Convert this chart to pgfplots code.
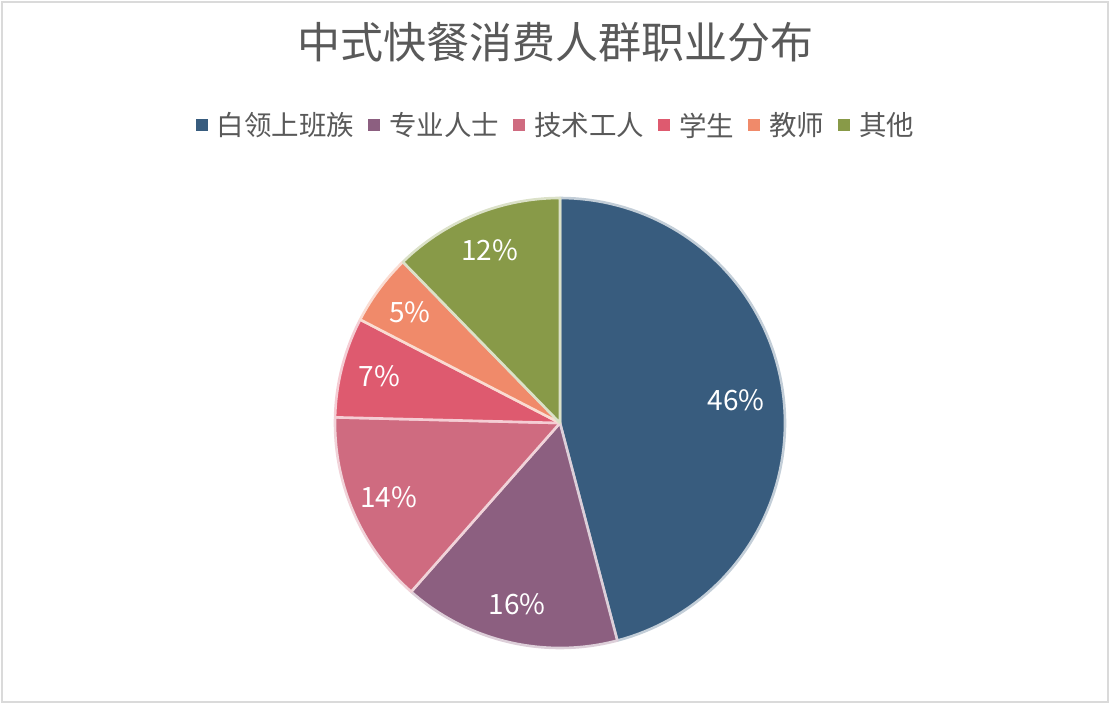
\documentclass[border=0pt]{standalone}
\usepackage{pgfplots}
\pgfplotsset{compat=1.18}
\usepackage{fontspec}
\setmainfont{Noto Sans CJK SC}
\definecolor{cBlue}{HTML}{385C7E}
\definecolor{cPurple}{HTML}{8C5F80}
\definecolor{cPink}{HTML}{CF6B80}
\definecolor{cRed}{HTML}{DE5A6F}
\definecolor{cOrange}{HTML}{F08A6A}
\definecolor{cGreen}{HTML}{889A48}
\definecolor{cText}{HTML}{595959}
\definecolor{cFrame}{HTML}{DADADA}
\def\splitentry#1/#2/#3\relax{\def\sv{#1}\def\sc{#2}\def\sl{#3}}
\begin{document}
\begin{tikzpicture}
\path (0,0) rectangle (1113bp,720bp);
\draw[cFrame, line width=2.5bp] (2bp,18bp) rectangle (1108bp,718bp);
\begin{axis}[
  at={(560bp,297bp)}, anchor=center,
  scale only axis, width=450bp, height=450bp,
  xmin=-1, xmax=1, ymin=-1, ymax=1,
  hide axis, clip=false,
  title={中式快餐消费人群职业分布},
  title style={at={(0.491,1.333)}, anchor=center, font=\fontsize{43bp}{50bp}\selectfont, text=cText},
  legend columns=6,
  legend style={at={(0.489,1.162)}, anchor=center, draw=none, fill=none, inner sep=0pt,
    font=\fontsize{27.5bp}{32bp}\selectfont, text=cText,
    /tikz/every even column/.append style={column sep=14bp},
    /tikz/every odd column/.append style={column sep=9bp},
    nodes={inner sep=0pt}},
  legend image code/.code={\path[#1, draw=none] (0bp,-6bp) rectangle (12bp,6bp);},
]
\def\cum{0}
\pgfplotsforeachungrouped \entry in {45.9/cBlue/白领上班族, 15.6/cPurple/专业人士, 13.9/cPink/技术工人, 7.2/cRed/学生, 5.1/cOrange/教师, 12.3/cGreen/其他}{%
  \expandafter\splitentry\entry\relax
  \pgfmathsetmacro\sa{90-3.6*\cum}%
  \pgfmathsetmacro\sb{90-3.6*(\cum+\sv)}%
  \pgfmathsetmacro\smid{(\sa+\sb)/2}%
  \pgfmathsetmacro\srad{\sv>40 ? 0.79 : 0.83}%
  \pgfmathsetmacro\slx{\srad*cos(\smid)}%
  \pgfmathsetmacro\sly{\srad*sin(\smid)}%
  \pgfmathtruncatemacro\spct{round(\sv)}%
  \edef\doslice{%
    \noexpand\addplot[fill=\sc, draw=\sc!30!white, line width=2.6bp, line join=round, domain=\sb:\sa, samples=90, variable=\noexpand\t]
      ({cos(\noexpand\t)}, {sin(\noexpand\t)}) -- (axis cs:0,0) -- cycle;
    \noexpand\addlegendentry{\sl}
    \noexpand\node[text=white, font=\noexpand\fontsize{28bp}{32bp}\noexpand\selectfont] at (axis cs:\slx,\sly) {\spct\noexpand\%};
  }%
  \doslice
  \pgfmathsetmacro\cum{\cum+\sv}%
}
\end{axis}
\end{tikzpicture}
\end{document}
